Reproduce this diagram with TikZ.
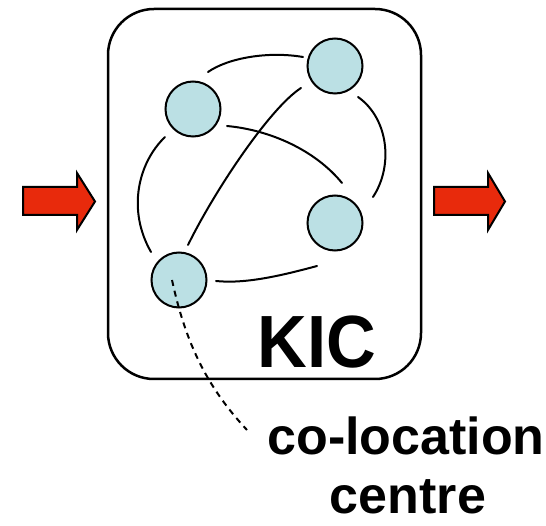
\documentclass[tikz,border=0pt]{standalone}
\usepackage{fontspec}
\setmainfont{Liberation Sans}
\usetikzlibrary{calc}
\definecolor{flowred}{RGB}{232,42,12}
\definecolor{nodeblue}{RGB}{187,224,228}
\tikzset{
  member/.style={circle, draw=black, fill=nodeblue, line width=2pt, minimum size=55pt, inner sep=0pt},
  link/.style={line width=2pt, line cap=round},
  flow/.style={draw=black, fill=flowred, line width=2pt, line join=miter},
  hub/.style={draw=black, line width=2.5pt, rounded corners=46pt, minimum width=313pt, minimum height=370pt, inner sep=0pt},
  label/.style={inner sep=0pt, anchor=base, font=\bfseries}
}
\begin{document}
\begin{tikzpicture}[x=1pt, y=-1pt]
  \useasboundingbox (0,0) rectangle (546,526);

  % flow in and out
  \path[flow] (23,187) -- (77,187) -- (77,173) -- (95,201.5) -- (77,230) -- (77,215) -- (23,215) -- cycle;
  \path[flow] (434,187) -- (488,187) -- (488,173) -- (505,201.5) -- (488,230) -- (488,215) -- (434,215) -- cycle;

  % the centre
  \node[hub] (kic) at (264.5,194) {};

  % members
  \node[member] (tl) at (193,109) {};
  \node[member] (tr) at (335,66) {};
  \node[member] (r)  at (335,223) {};
  \node[member] (bl) at (179,280) {};

  % ties between members
  \draw[link] ($(tl)+(15,-37)$) .. controls (228,58) and (268,51) .. ($(tr)+(-32,-9)$);
  \draw[link] ($(tl)+(34,17)$) .. controls (270,130) and (315,150) .. ($(r)+(7,-40)$);
  \draw[link] ($(tr)+(-34,22)$) .. controls (270,108) and (215,190) .. ($(bl)+(9,-35)$);
  \draw[link] ($(tr)+(23,31)$) .. controls (388,118) and (394,165) .. ($(r)+(38,-26)$);
  \draw[link] ($(tl)+(-28,28)$) .. controls (138,163) and (127,210) .. ($(bl)+(-28,-28)$);
  \draw[link] ($(bl)+(37,1)$) .. controls (245,284) and (280,276) .. ($(r)+(-18,43)$);

  % pointer to the caption
  \coordinate (tag) at (247,430);
  \draw[line width=2pt, dash pattern=on 6pt off 5pt] ($(bl)+(-7,0)$) .. controls (185,340) and (205,385) .. (tag);

  % texts
  \node[label] (kictext) at (317,368) {\scalebox{0.93}[1]{\fontsize{74}{74}\selectfont KIC}};
  \node[label] (colo) at (406,454) {\fontsize{52}{52}\selectfont co-location};
  \node[label] (centre) at (408,513) {\fontsize{52}{52}\selectfont centre};
\end{tikzpicture}
\end{document}
